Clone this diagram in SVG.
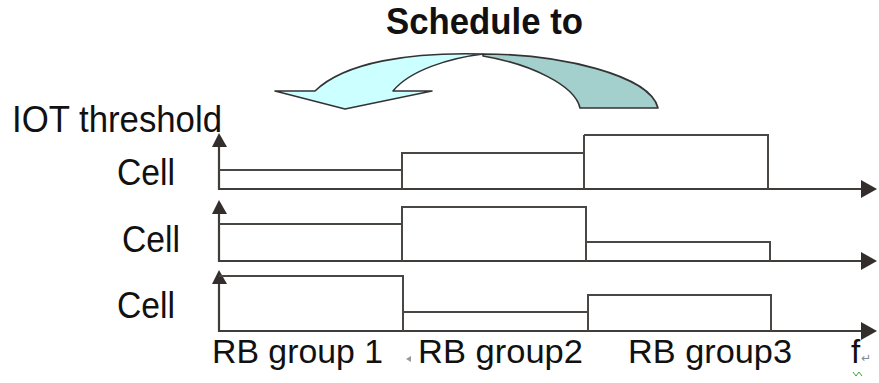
<svg xmlns="http://www.w3.org/2000/svg" width="879" height="383" viewBox="0 0 879 383">
  <defs>
    <style>
      .lbl { font-family: "Liberation Sans", Arial, sans-serif; font-size: 33px; fill: #111; }
      .title { font-family: "Liberation Sans", Arial, sans-serif; font-size: 34px; font-weight: bold; fill: #111; }
      .ax { fill: none; stroke: #403c39; stroke-width: 2.2; }
      .lvl { fill: none; stroke: #4a4643; stroke-width: 2; }
      .head { fill: #332e2b; }
    </style>
  </defs>

  <rect width="879" height="383" fill="#ffffff"/>

  <!-- heading -->
  <g id="title">
    <text class="title" transform="translate(386,34) scale(1,1.07)" textLength="197" lengthAdjust="spacingAndGlyphs">Schedule to</text>
  </g>

  <!-- twisted curved arrow: back face (teal) then front face (cyan) -->
  <g id="curved-arrow" stroke="#333" stroke-width="1.6" stroke-linejoin="round">
    <path d="M483,54 C560,54 650,75 658,108 L580,108 C575,85 530,64 483,56 Z" fill="#a3cfcc"/>
    <path d="M275,91 L315,91 C345,62 410,52 483,54 C450,58 410,70 393,91 L432,91 L345,109 Z" fill="#ccffff"/>
  </g>

  <!-- axis labels -->
  <g id="labels">
    <text class="lbl" transform="translate(12,132) scale(1,1.13)" textLength="210" lengthAdjust="spacingAndGlyphs">IOT threshold</text>
    <text class="lbl" transform="translate(117,185) scale(1,1.13)" textLength="58" lengthAdjust="spacingAndGlyphs">Cell</text>
    <text class="lbl" transform="translate(122,252) scale(1,1.13)" textLength="58" lengthAdjust="spacingAndGlyphs">Cell</text>
    <text class="lbl" transform="translate(117,318) scale(1,1.13)" textLength="58" lengthAdjust="spacingAndGlyphs">Cell</text>
    <text class="lbl" x="212" y="363" textLength="171" lengthAdjust="spacingAndGlyphs">RB group 1</text>
    <text class="lbl" x="418" y="363" textLength="165" lengthAdjust="spacingAndGlyphs">RB group2</text>
    <text class="lbl" x="628" y="363" textLength="164" lengthAdjust="spacingAndGlyphs">RB group3</text>
    <text class="lbl" x="851" y="363">f</text>
    <text x="861" y="362" font-family="DejaVu Sans, sans-serif" font-size="12" fill="#888">↵</text>
    <path d="M406,359 L411,356 L411,362 Z" fill="#999"/>
    <polyline points="853,372 856,376 859,372 862,376" fill="none" stroke="#3a3" stroke-width="1"/>
  </g>

  <!-- cell 1 -->
  <g id="cell1">
    <path class="ax" d="M219,147 V189 H862"/>
    <path class="head" d="M219,133 L212,147 L227,147 Z"/>
    <path class="head" d="M877,189 L861,180 L861,198 Z"/>
    <path class="lvl" d="M219,170 H402 V189 M402,189 V153 H584 V189 M584,135 H768 V189 M584,153 V135"/>
  </g>

  <!-- cell 2 -->
  <g id="cell2">
    <path class="ax" d="M219,214 V261 H862"/>
    <path class="head" d="M219,200 L212,214 L227,214 Z"/>
    <path class="head" d="M877,261 L861,252 L861,270 Z"/>
    <path class="lvl" d="M219,224 H402 V261 M402,224 V207 H586 V261 M586,242 H770 V261"/>
  </g>

  <!-- cell 3 -->
  <g id="cell3">
    <path class="ax" d="M219,284 V331 H862"/>
    <path class="head" d="M219,270 L212,284 L227,284 Z"/>
    <path class="head" d="M877,331 L861,322 L861,340 Z"/>
    <path class="lvl" d="M219,276 H403 V331 M403,312 H588 V331 M588,312 V295 H771 V331"/>
  </g>
</svg>
